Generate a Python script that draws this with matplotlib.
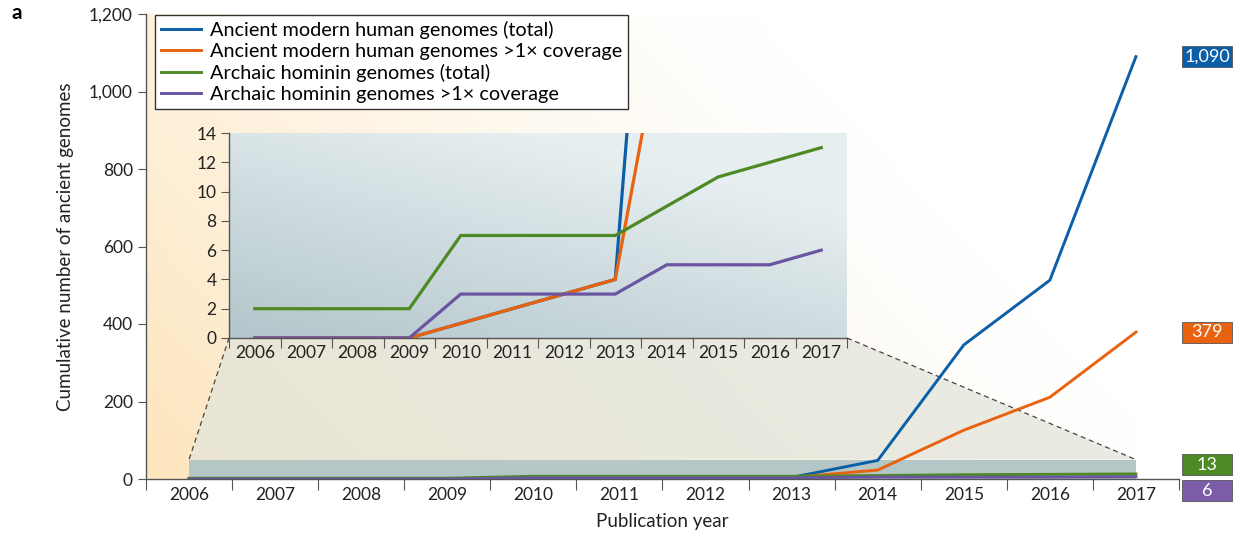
import numpy as np
import matplotlib.pyplot as plt
from matplotlib.patches import Rectangle, Polygon
from matplotlib.lines import Line2D
from matplotlib.colors import to_rgb
from matplotlib.ticker import FuncFormatter

plt.rcParams['font.family'] = ['Lato', 'DejaVu Sans']

years = [2006, 2007, 2008, 2009, 2010, 2011, 2012, 2013, 2014, 2015, 2016, 2017]
modern_total = [0, 0, 0, 0, 1, 2, 3, 4, 48, 346, 513, 1090]
modern_1x = [0, 0, 0, 0, 1, 2, 3, 4, 23, 126, 211, 379]
archaic_total = [2, 2, 2, 2, 7, 7, 7, 7, 9, 11, 12, 13]
archaic_1x = [0, 0, 0, 0, 3, 3, 3, 3, 5, 5, 5, 6]

labels = ["Ancient modern human genomes (total)",
          "Ancient modern human genomes >1\u00d7 coverage",
          "Archaic hominin genomes (total)",
          "Archaic hominin genomes >1\u00d7 coverage"]
colors = ["#0b5ea8", "#e8620f", "#4e8a24", "#6a55a0"]
box_colors = ["#0b5ea8", "#e8620f", "#4e8a24", "#7b5ea7"]
final_labels = ["1,090", "379", "13", "6"]
series = [modern_total, modern_1x, archaic_total, archaic_1x]

x = np.arange(len(years))
W, H = 1240, 537
fig = plt.figure(figsize=(W / 100, H / 100), dpi=100)

# main axes
ax = fig.add_axes([146 / W, (H - 479) / H, (1179 - 146) / W, (479 - 14) / H])
ax.set_xlim(-0.5, len(years) - 0.5)
ax.set_ylim(0, 1200)
ax.set_facecolor("none")
for s in ["top", "right"]:
    ax.spines[s].set_visible(False)
for s in ["left", "bottom"]:
    ax.spines[s].set_color("#555555")
    ax.spines[s].set_linewidth(1.0)

# background gradient (cream bottom-left to white top-right)
nx, ny = 400, 200
u, v = np.meshgrid(np.linspace(0, 1, nx), np.linspace(0, 1, ny))
t = np.clip(1 - (u * 0.95 + v * 0.42), 0, 1) ** 1.25
cream = np.array(to_rgb("#fde5bd"))
img = np.ones((ny, nx, 3)) * (1 - t[..., None]) + cream * t[..., None]
ax.imshow(img, extent=(-0.5, len(years) - 1, 0, 1200), origin="lower",
          aspect="auto", zorder=0)

# zoomed region band
ax.add_patch(Rectangle((0, 0), len(years) - 1, 50, facecolor="#b4c6c5",
                       edgecolor="none", zorder=2))

for ys, c, lab in zip(series, colors, labels):
    ax.plot(x, ys, color=c, lw=2.1, label=lab, zorder=4, solid_joinstyle="miter")

ax.set_xticks(np.arange(-0.5, len(years) - 0.4, 1.0))
ax.set_xticklabels([])
ax.set_xticks(x, minor=True)
ax.set_xticklabels([str(y) for y in years], minor=True)
ax.tick_params(axis="x", which="major", direction="out", length=8, color="#555555")
ax.tick_params(axis="x", which="minor", length=0, pad=6, labelsize=12.5, labelcolor="#222222")
ax.set_yticks(np.arange(0, 1201, 200))
ax.yaxis.set_major_formatter(FuncFormatter(lambda v, p: f"{int(v):,}"))
ax.tick_params(axis="y", direction="out", length=6, color="#555555", labelsize=12.5,
               labelcolor="#222222")
ax.set_xlabel("Publication year", fontsize=13.5, labelpad=7, color="#222222")
ax.set_ylabel("Cumulative number of ancient genomes", fontsize=13.5, labelpad=11,
              color="#222222")

leg = ax.legend(loc="upper left", bbox_to_anchor=(155 / W, 1 - 15 / H),
                bbox_transform=fig.transFigure, fontsize=14.3, frameon=True,
                fancybox=False, handlelength=2.0, handletextpad=0.45,
                borderpad=0.3, labelspacing=0.2, borderaxespad=0)
leg.get_frame().set_edgecolor("#333333")
leg.get_frame().set_linewidth(1.0)
leg.get_frame().set_facecolor("white")
leg.get_frame().set_alpha(1)
leg.set_zorder(10)

# inset axes
ins = fig.add_axes([229 / W, (H - 338) / H, (847 - 229) / W, (338 - 133) / H])
ins.set_xlim(-0.5, len(years) - 0.5)
ins.set_ylim(0, 14)
ins.set_facecolor("none")
for s in ["top", "right"]:
    ins.spines[s].set_visible(False)
for s in ["left", "bottom"]:
    ins.spines[s].set_color("#555555")
    ins.spines[s].set_linewidth(1.0)
gu, gv = np.meshgrid(np.linspace(0, 1, 200), np.linspace(0, 1, 100))
g = np.clip(0.55 * gu + 0.75 * gv, 0, 1)
dark = np.array(to_rgb("#b3c6cb"))
light = np.array(to_rgb("#e6eef0"))
gimg = dark * (1 - g[..., None]) + light * g[..., None]
ins.imshow(gimg, extent=(-0.5, len(years) - 0.5, 0, 14), origin="lower",
           aspect="auto", zorder=0)
for ys, c in zip(series, colors):
    ins.plot(x, ys, color=c, lw=2.3, zorder=3, clip_on=True, solid_joinstyle="miter")
ins.set_xticks(np.arange(-0.5, len(years) - 0.4, 1.0))
ins.set_xticklabels([])
ins.set_xticks(x, minor=True)
ins.set_xticklabels([str(y) for y in years], minor=True)
ins.tick_params(axis="x", which="major", direction="out", length=7, color="#555555")
ins.tick_params(axis="x", which="minor", length=0, pad=5, labelsize=12.5,
                labelcolor="#222222")
ins.set_yticks(np.arange(0, 15, 2))
ins.tick_params(axis="y", direction="out", length=6, color="#555555", labelsize=12.5,
                labelcolor="#222222", pad=3)

# trapezoid connecting the inset to the band (drawn in the main axes, under the lines)
to_fig = fig.transFigure.inverted()
p_il = to_fig.transform(ins.transAxes.transform((0, 0)))
p_ir = to_fig.transform(ins.transAxes.transform((1, 0)))
p_ml = to_fig.transform(ax.transData.transform((0, 50)))
p_mr = to_fig.transform(ax.transData.transform((len(years) - 1, 50)))
ax.add_patch(Polygon([p_il, p_ir, p_mr, p_ml], closed=True, transform=fig.transFigure,
                     facecolor="#e3e4da", edgecolor="none", alpha=0.75, zorder=1.5,
                     clip_on=False))
for pa, pb in [(p_il, p_ml), (p_ir, p_mr)]:
    ax.add_line(Line2D([pa[0], pb[0]], [pa[1], pb[1]], transform=fig.transFigure,
                       linestyle=(0, (4, 3)), color="#444444", lw=0.9, zorder=3,
                       clip_on=False))

# value boxes on the right
offsets = [0, 0, -9, 14]
bw, bh = 50 / W, 21 / H
for ys, c, txt, off in zip(series, box_colors, final_labels, offsets):
    yd = ax.transData.transform((0, ys[-1]))[1] - off
    yc = yd / H
    xc = 1207 / W
    fig.add_artist(Rectangle((xc - bw / 2, yc - bh / 2), bw, bh, transform=fig.transFigure,
                             facecolor=c, edgecolor="#555555", lw=0.6))
    fig.text(xc, yc, txt, color="white", fontsize=13, ha="center", va="center")

fig.text(11 / W, 1 - 13 / H, "a", fontsize=15, fontweight="bold", va="center")

fig.savefig("out.png", dpi=100)
